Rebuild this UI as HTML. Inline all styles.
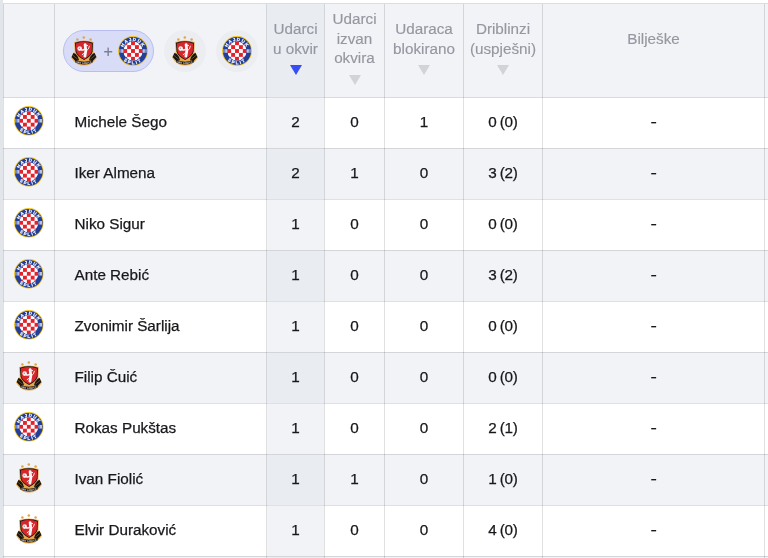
<!DOCTYPE html>
<html><head><meta charset="utf-8"><style>
*{box-sizing:border-box;margin:0;padding:0}
html,body{width:768px;height:558px;overflow:hidden;background:#fff}
body{position:relative;font-family:"Liberation Sans",Arial,sans-serif;font-size:15.25px;color:#222226}
.abs{position:absolute}
.strip{position:absolute;left:0;top:0;width:3px;height:558px;background:#e2e6eb}
.hdr{position:absolute;left:3px;top:3px;width:765px;height:95px;background:#f2f3f7;border-top:1px solid #dcdde0}
.hsort{position:absolute;top:4px;height:93px;background:#e9ecf1}
.row{position:absolute;left:3px;width:765px;height:51px}
.row.g{background:#f2f3f7}
.row.w{background:#fff}
.scell{position:absolute;height:50px}
.vl{position:absolute;width:1px;background:rgba(0,0,0,0.12)}
.hl{position:absolute;height:1px;left:3px;width:765px;background:rgba(0,0,0,0.12)}
.logo{position:absolute;display:block}
.pill{position:absolute;left:63px;top:30px;width:91px;height:42px;border-radius:21px;background:#d9dcf7;border:1px solid #b7bef4}
.circ{position:absolute;top:30px;width:42px;height:42px;border-radius:50%;background:#ebedf1}
.plus{position:absolute;left:102.2px;top:42.2px;width:12px;height:20px;line-height:20px;text-align:center;color:#7a7f96;font-size:16px;-webkit-text-stroke:0.2px #7a7f96}
.hc{position:absolute;top:4px;height:93px;display:flex;flex-direction:column;align-items:center;justify-content:center;color:#9597a0;line-height:19.5px;text-align:center;-webkit-text-stroke:0.15px #9597a0}
.ico{height:24px;width:24px;position:relative}
.ico i{position:absolute;left:6.3px;top:7px;width:0;height:0;border-left:6.2px solid transparent;border-right:6.2px solid transparent;border-top:10.4px solid #d2d3d8}
.ico.s i{border-top-color:#374df5}
.dash{display:inline-block;transform:scaleX(1.25)}
.name{position:absolute;left:74.5px;line-height:20px;color:#18181c;-webkit-text-stroke:0.25px #18181c}
.num{position:absolute;text-align:center;line-height:20px;color:#18181c;-webkit-text-stroke:0.25px #18181c;letter-spacing:-0.2px;word-spacing:-0.9px}
</style></head><body>
<div class="strip"></div>
<div class="hdr"></div>

<div class="hsort" style="left:267px;width:57px"></div>
<div class="pill"></div>
<div class="circ" style="left:164px"></div><div class="circ" style="left:216px"></div>
<svg class="logo" style="left:67.90px;top:33.05px;width:32px;height:36px" viewBox="0 0 32 36">
<g fill="#e2a548"><circle cx="9.4" cy="6.5" r="1.25"/><circle cx="15.8" cy="4.4" r="1.25"/><circle cx="22.6" cy="6.5" r="1.25"/></g>
<path d="M3,24.4 L5.8,19.2 L9.2,20.6 L16,26.6 L22.8,20.6 L26.2,19.2 L29,24.4 Q24,32.6 16,32.6 Q8,32.6 3,24.4 Z" fill="#e6a64a"/>
<path d="M3.7,24 L5.4,20 L9.2,21.5 L11,27.2 L7.4,28 Z M28.3,24 L26.6,20 L22.8,21.5 L21,27.2 L24.6,28 Z" fill="#141414"/>
<path d="M5,22.4 L9.6,26.2 M27,22.4 L22.4,26.2" stroke="#c8903a" stroke-width="0.45"/>
<path d="M7.2,27.1 Q16,30.5 24.8,27.1 L24.6,29.6 Q16,33.6 7.4,29.6 Z" fill="#141414"/>
<path d="M6.1,9 Q15.9,6 25.7,9 L25.4,18.5 Q24.6,23.4 16.1,27.9 Q7.6,23.4 6.8,18.5 Z" fill="#e8aa4c"/>
<path d="M6.9,9.7 Q15.9,6.9 24.9,9.7 L24.6,18.5 Q23.8,22.9 16.1,27.1 Q8.4,22.9 7.6,18.5 Z" fill="#151515"/>
<path d="M7.7,10.4 Q15.9,7.8 24.1,10.4 L23.8,18.5 Q23,22.4 16.1,26.3 Q9.2,22.4 8.4,18.5 Z" fill="#d8262b"/>
<circle cx="11.7" cy="15.6" r="2.3" fill="#eeeeee"/>
<circle cx="11.3" cy="15.3" r="0.7" fill="#9a9a9a"/>
<g stroke="#f8f8f8" stroke-linecap="round" fill="none">
<path d="M17.1,11.6 L17.8,17.6 L16.9,23.2" stroke-width="2.8"/>
<path d="M13.4,16.8 Q15,17.6 16.8,16.2" stroke-width="1.5"/>
<path d="M17.3,19.6 Q15.6,20.2 14.2,21.6" stroke-width="1"/>
<path d="M18.6,17.6 Q21,16.6 21.4,13.2" stroke-width="0.9"/>
<path d="M18.2,12.2 L19.6,12.6" stroke-width="1"/>
</g>
<path id="g84_50" d="M7.6,29.3 Q16,32.7 24.4,29.3" fill="none"/><text font-family="Liberation Sans, sans-serif" font-weight="bold" font-size="2.3" fill="#f0f0f0" letter-spacing="0.12"><textPath href="#g84_50" startOffset="50%" text-anchor="middle">HNK GORICA</textPath></text>
</svg>
<div class="plus">+</div>
<svg class="logo" style="left:118.00px;top:36.00px;width:30px;height:30px" viewBox="0 0 30 30">
<defs><clipPath id="ch133_51"><circle cx="15" cy="15" r="9.6"/></clipPath>
<path id="th133_51" d="M4.9,15 A10.1,10.1 0 0 1 25.1,15"/><path id="bh133_51" d="M1.7,15 A13.3,13.3 0 0 0 28.3,15"/></defs>
<circle cx="15" cy="15" r="14.9" fill="#f1c21b"/>
<circle cx="15" cy="15" r="14.1" fill="#213e9a"/>
<circle cx="15" cy="15" r="9.6" fill="#fff"/>
<g fill="#e3222b" clip-path="url(#ch133_51)"><rect x="5.25" y="5.25" width="3.9" height="3.9"/><rect x="13.05" y="5.25" width="3.9" height="3.9"/><rect x="20.85" y="5.25" width="3.9" height="3.9"/><rect x="9.15" y="9.15" width="3.9" height="3.9"/><rect x="16.95" y="9.15" width="3.9" height="3.9"/><rect x="5.25" y="13.05" width="3.9" height="3.9"/><rect x="13.05" y="13.05" width="3.9" height="3.9"/><rect x="20.85" y="13.05" width="3.9" height="3.9"/><rect x="9.15" y="16.95" width="3.9" height="3.9"/><rect x="16.95" y="16.95" width="3.9" height="3.9"/><rect x="5.25" y="20.85" width="3.9" height="3.9"/><rect x="13.05" y="20.85" width="3.9" height="3.9"/><rect x="20.85" y="20.85" width="3.9" height="3.9"/></g>
<g fill="#fff"><rect x="1.6" y="13.2" width="0.7" height="3.6"/><rect x="2.9" y="13.2" width="0.7" height="3.6"/><rect x="4.2" y="13.2" width="0.7" height="3.6"/><rect x="25.1" y="13.2" width="0.7" height="3.6"/><rect x="26.4" y="13.2" width="0.7" height="3.6"/><rect x="27.7" y="13.2" width="0.7" height="3.6"/></g>
<text font-family="Liberation Sans, sans-serif" font-weight="bold" font-size="4.5" fill="#fff" stroke="#fff" stroke-width="0.15" letter-spacing="1.0"><textPath href="#th133_51" startOffset="50%" text-anchor="middle">HAJDUK</textPath></text>
<text font-family="Liberation Sans, sans-serif" font-weight="bold" font-size="4.5" fill="#fff" stroke="#fff" stroke-width="0.15" letter-spacing="1.6"><textPath href="#bh133_51" startOffset="50%" text-anchor="middle">SPLIT</textPath></text>
</svg>
<svg class="logo" style="left:169.00px;top:33.00px;width:32px;height:36px" viewBox="0 0 32 36">
<g fill="#e2a548"><circle cx="9.4" cy="6.5" r="1.25"/><circle cx="15.8" cy="4.4" r="1.25"/><circle cx="22.6" cy="6.5" r="1.25"/></g>
<path d="M3,24.4 L5.8,19.2 L9.2,20.6 L16,26.6 L22.8,20.6 L26.2,19.2 L29,24.4 Q24,32.6 16,32.6 Q8,32.6 3,24.4 Z" fill="#e6a64a"/>
<path d="M3.7,24 L5.4,20 L9.2,21.5 L11,27.2 L7.4,28 Z M28.3,24 L26.6,20 L22.8,21.5 L21,27.2 L24.6,28 Z" fill="#141414"/>
<path d="M5,22.4 L9.6,26.2 M27,22.4 L22.4,26.2" stroke="#c8903a" stroke-width="0.45"/>
<path d="M7.2,27.1 Q16,30.5 24.8,27.1 L24.6,29.6 Q16,33.6 7.4,29.6 Z" fill="#141414"/>
<path d="M6.1,9 Q15.9,6 25.7,9 L25.4,18.5 Q24.6,23.4 16.1,27.9 Q7.6,23.4 6.8,18.5 Z" fill="#e8aa4c"/>
<path d="M6.9,9.7 Q15.9,6.9 24.9,9.7 L24.6,18.5 Q23.8,22.9 16.1,27.1 Q8.4,22.9 7.6,18.5 Z" fill="#151515"/>
<path d="M7.7,10.4 Q15.9,7.8 24.1,10.4 L23.8,18.5 Q23,22.4 16.1,26.3 Q9.2,22.4 8.4,18.5 Z" fill="#d8262b"/>
<circle cx="11.7" cy="15.6" r="2.3" fill="#eeeeee"/>
<circle cx="11.3" cy="15.3" r="0.7" fill="#9a9a9a"/>
<g stroke="#f8f8f8" stroke-linecap="round" fill="none">
<path d="M17.1,11.6 L17.8,17.6 L16.9,23.2" stroke-width="2.8"/>
<path d="M13.4,16.8 Q15,17.6 16.8,16.2" stroke-width="1.5"/>
<path d="M17.3,19.6 Q15.6,20.2 14.2,21.6" stroke-width="1"/>
<path d="M18.6,17.6 Q21,16.6 21.4,13.2" stroke-width="0.9"/>
<path d="M18.2,12.2 L19.6,12.6" stroke-width="1"/>
</g>
<path id="g185_50" d="M7.6,29.3 Q16,32.7 24.4,29.3" fill="none"/><text font-family="Liberation Sans, sans-serif" font-weight="bold" font-size="2.3" fill="#f0f0f0" letter-spacing="0.12"><textPath href="#g185_50" startOffset="50%" text-anchor="middle">HNK GORICA</textPath></text>
</svg>
<svg class="logo" style="left:222.00px;top:36.00px;width:30px;height:30px" viewBox="0 0 30 30">
<defs><clipPath id="ch237_51"><circle cx="15" cy="15" r="9.6"/></clipPath>
<path id="th237_51" d="M4.9,15 A10.1,10.1 0 0 1 25.1,15"/><path id="bh237_51" d="M1.7,15 A13.3,13.3 0 0 0 28.3,15"/></defs>
<circle cx="15" cy="15" r="14.9" fill="#f1c21b"/>
<circle cx="15" cy="15" r="14.1" fill="#213e9a"/>
<circle cx="15" cy="15" r="9.6" fill="#fff"/>
<g fill="#e3222b" clip-path="url(#ch237_51)"><rect x="5.25" y="5.25" width="3.9" height="3.9"/><rect x="13.05" y="5.25" width="3.9" height="3.9"/><rect x="20.85" y="5.25" width="3.9" height="3.9"/><rect x="9.15" y="9.15" width="3.9" height="3.9"/><rect x="16.95" y="9.15" width="3.9" height="3.9"/><rect x="5.25" y="13.05" width="3.9" height="3.9"/><rect x="13.05" y="13.05" width="3.9" height="3.9"/><rect x="20.85" y="13.05" width="3.9" height="3.9"/><rect x="9.15" y="16.95" width="3.9" height="3.9"/><rect x="16.95" y="16.95" width="3.9" height="3.9"/><rect x="5.25" y="20.85" width="3.9" height="3.9"/><rect x="13.05" y="20.85" width="3.9" height="3.9"/><rect x="20.85" y="20.85" width="3.9" height="3.9"/></g>
<g fill="#fff"><rect x="1.6" y="13.2" width="0.7" height="3.6"/><rect x="2.9" y="13.2" width="0.7" height="3.6"/><rect x="4.2" y="13.2" width="0.7" height="3.6"/><rect x="25.1" y="13.2" width="0.7" height="3.6"/><rect x="26.4" y="13.2" width="0.7" height="3.6"/><rect x="27.7" y="13.2" width="0.7" height="3.6"/></g>
<text font-family="Liberation Sans, sans-serif" font-weight="bold" font-size="4.5" fill="#fff" stroke="#fff" stroke-width="0.15" letter-spacing="1.0"><textPath href="#th237_51" startOffset="50%" text-anchor="middle">HAJDUK</textPath></text>
<text font-family="Liberation Sans, sans-serif" font-weight="bold" font-size="4.5" fill="#fff" stroke="#fff" stroke-width="0.15" letter-spacing="1.6"><textPath href="#bh237_51" startOffset="50%" text-anchor="middle">SPLIT</textPath></text>
</svg>
<div class="hc" style="left:267px;width:57px"><div>Udarci<br>u okvir</div><div class="ico s"><i></i></div></div>
<div class="hc" style="left:325px;width:59px"><div>Udarci<br>izvan<br>okvira</div><div class="ico"><i></i></div></div>
<div class="hc" style="left:385px;width:78px"><div>Udaraca<br>blokirano</div><div class="ico"><i></i></div></div>
<div class="hc" style="left:464px;width:78px"><div>Driblinzi<br>(uspješni)</div><div class="ico"><i></i></div></div>
<div class="hc" style="left:543px;width:221px"><div>Bilješke</div><div class="ico" style="visibility:hidden"></div></div>
<div class="row w" style="top:97px"></div>
<div class="scell" style="left:267px;width:57px;top:98px;background:#f2f3f7"></div>
<svg class="logo" style="left:14.40px;top:106.30px;width:29.6px;height:29.6px" viewBox="0 0 30 30">
<defs><clipPath id="ch29_121"><circle cx="15" cy="15" r="9.6"/></clipPath>
<path id="th29_121" d="M4.9,15 A10.1,10.1 0 0 1 25.1,15"/><path id="bh29_121" d="M1.7,15 A13.3,13.3 0 0 0 28.3,15"/></defs>
<circle cx="15" cy="15" r="14.9" fill="#f1c21b"/>
<circle cx="15" cy="15" r="14.1" fill="#213e9a"/>
<circle cx="15" cy="15" r="9.6" fill="#fff"/>
<g fill="#e3222b" clip-path="url(#ch29_121)"><rect x="5.25" y="5.25" width="3.9" height="3.9"/><rect x="13.05" y="5.25" width="3.9" height="3.9"/><rect x="20.85" y="5.25" width="3.9" height="3.9"/><rect x="9.15" y="9.15" width="3.9" height="3.9"/><rect x="16.95" y="9.15" width="3.9" height="3.9"/><rect x="5.25" y="13.05" width="3.9" height="3.9"/><rect x="13.05" y="13.05" width="3.9" height="3.9"/><rect x="20.85" y="13.05" width="3.9" height="3.9"/><rect x="9.15" y="16.95" width="3.9" height="3.9"/><rect x="16.95" y="16.95" width="3.9" height="3.9"/><rect x="5.25" y="20.85" width="3.9" height="3.9"/><rect x="13.05" y="20.85" width="3.9" height="3.9"/><rect x="20.85" y="20.85" width="3.9" height="3.9"/></g>
<g fill="#fff"><rect x="1.6" y="13.2" width="0.7" height="3.6"/><rect x="2.9" y="13.2" width="0.7" height="3.6"/><rect x="4.2" y="13.2" width="0.7" height="3.6"/><rect x="25.1" y="13.2" width="0.7" height="3.6"/><rect x="26.4" y="13.2" width="0.7" height="3.6"/><rect x="27.7" y="13.2" width="0.7" height="3.6"/></g>
<text font-family="Liberation Sans, sans-serif" font-weight="bold" font-size="4.5" fill="#fff" stroke="#fff" stroke-width="0.15" letter-spacing="1.0"><textPath href="#th29_121" startOffset="50%" text-anchor="middle">HAJDUK</textPath></text>
<text font-family="Liberation Sans, sans-serif" font-weight="bold" font-size="4.5" fill="#fff" stroke="#fff" stroke-width="0.15" letter-spacing="1.6"><textPath href="#bh29_121" startOffset="50%" text-anchor="middle">SPLIT</textPath></text>
</svg>
<div class="name" style="top:112px">Michele Šego</div>
<div class="num" style="left:267px;width:57px;top:112px">2</div>
<div class="num" style="left:325px;width:59px;top:112px">0</div>
<div class="num" style="left:385px;width:78px;top:112px">1</div>
<div class="num" style="left:464px;width:78px;top:112px">0 (0)</div>
<div class="num" style="left:543px;width:221px;top:112px"><span class="dash">-</span></div>
<div class="row g" style="top:148px"></div>
<div class="scell" style="left:267px;width:57px;top:149px;background:#e9ecf1"></div>
<svg class="logo" style="left:14.40px;top:157.30px;width:29.6px;height:29.6px" viewBox="0 0 30 30">
<defs><clipPath id="ch29_172"><circle cx="15" cy="15" r="9.6"/></clipPath>
<path id="th29_172" d="M4.9,15 A10.1,10.1 0 0 1 25.1,15"/><path id="bh29_172" d="M1.7,15 A13.3,13.3 0 0 0 28.3,15"/></defs>
<circle cx="15" cy="15" r="14.9" fill="#f1c21b"/>
<circle cx="15" cy="15" r="14.1" fill="#213e9a"/>
<circle cx="15" cy="15" r="9.6" fill="#fff"/>
<g fill="#e3222b" clip-path="url(#ch29_172)"><rect x="5.25" y="5.25" width="3.9" height="3.9"/><rect x="13.05" y="5.25" width="3.9" height="3.9"/><rect x="20.85" y="5.25" width="3.9" height="3.9"/><rect x="9.15" y="9.15" width="3.9" height="3.9"/><rect x="16.95" y="9.15" width="3.9" height="3.9"/><rect x="5.25" y="13.05" width="3.9" height="3.9"/><rect x="13.05" y="13.05" width="3.9" height="3.9"/><rect x="20.85" y="13.05" width="3.9" height="3.9"/><rect x="9.15" y="16.95" width="3.9" height="3.9"/><rect x="16.95" y="16.95" width="3.9" height="3.9"/><rect x="5.25" y="20.85" width="3.9" height="3.9"/><rect x="13.05" y="20.85" width="3.9" height="3.9"/><rect x="20.85" y="20.85" width="3.9" height="3.9"/></g>
<g fill="#fff"><rect x="1.6" y="13.2" width="0.7" height="3.6"/><rect x="2.9" y="13.2" width="0.7" height="3.6"/><rect x="4.2" y="13.2" width="0.7" height="3.6"/><rect x="25.1" y="13.2" width="0.7" height="3.6"/><rect x="26.4" y="13.2" width="0.7" height="3.6"/><rect x="27.7" y="13.2" width="0.7" height="3.6"/></g>
<text font-family="Liberation Sans, sans-serif" font-weight="bold" font-size="4.5" fill="#fff" stroke="#fff" stroke-width="0.15" letter-spacing="1.0"><textPath href="#th29_172" startOffset="50%" text-anchor="middle">HAJDUK</textPath></text>
<text font-family="Liberation Sans, sans-serif" font-weight="bold" font-size="4.5" fill="#fff" stroke="#fff" stroke-width="0.15" letter-spacing="1.6"><textPath href="#bh29_172" startOffset="50%" text-anchor="middle">SPLIT</textPath></text>
</svg>
<div class="name" style="top:163px">Iker Almena</div>
<div class="num" style="left:267px;width:57px;top:163px">2</div>
<div class="num" style="left:325px;width:59px;top:163px">1</div>
<div class="num" style="left:385px;width:78px;top:163px">0</div>
<div class="num" style="left:464px;width:78px;top:163px">3 (2)</div>
<div class="num" style="left:543px;width:221px;top:163px"><span class="dash">-</span></div>
<div class="row w" style="top:199px"></div>
<div class="scell" style="left:267px;width:57px;top:200px;background:#f2f3f7"></div>
<svg class="logo" style="left:14.40px;top:208.30px;width:29.6px;height:29.6px" viewBox="0 0 30 30">
<defs><clipPath id="ch29_223"><circle cx="15" cy="15" r="9.6"/></clipPath>
<path id="th29_223" d="M4.9,15 A10.1,10.1 0 0 1 25.1,15"/><path id="bh29_223" d="M1.7,15 A13.3,13.3 0 0 0 28.3,15"/></defs>
<circle cx="15" cy="15" r="14.9" fill="#f1c21b"/>
<circle cx="15" cy="15" r="14.1" fill="#213e9a"/>
<circle cx="15" cy="15" r="9.6" fill="#fff"/>
<g fill="#e3222b" clip-path="url(#ch29_223)"><rect x="5.25" y="5.25" width="3.9" height="3.9"/><rect x="13.05" y="5.25" width="3.9" height="3.9"/><rect x="20.85" y="5.25" width="3.9" height="3.9"/><rect x="9.15" y="9.15" width="3.9" height="3.9"/><rect x="16.95" y="9.15" width="3.9" height="3.9"/><rect x="5.25" y="13.05" width="3.9" height="3.9"/><rect x="13.05" y="13.05" width="3.9" height="3.9"/><rect x="20.85" y="13.05" width="3.9" height="3.9"/><rect x="9.15" y="16.95" width="3.9" height="3.9"/><rect x="16.95" y="16.95" width="3.9" height="3.9"/><rect x="5.25" y="20.85" width="3.9" height="3.9"/><rect x="13.05" y="20.85" width="3.9" height="3.9"/><rect x="20.85" y="20.85" width="3.9" height="3.9"/></g>
<g fill="#fff"><rect x="1.6" y="13.2" width="0.7" height="3.6"/><rect x="2.9" y="13.2" width="0.7" height="3.6"/><rect x="4.2" y="13.2" width="0.7" height="3.6"/><rect x="25.1" y="13.2" width="0.7" height="3.6"/><rect x="26.4" y="13.2" width="0.7" height="3.6"/><rect x="27.7" y="13.2" width="0.7" height="3.6"/></g>
<text font-family="Liberation Sans, sans-serif" font-weight="bold" font-size="4.5" fill="#fff" stroke="#fff" stroke-width="0.15" letter-spacing="1.0"><textPath href="#th29_223" startOffset="50%" text-anchor="middle">HAJDUK</textPath></text>
<text font-family="Liberation Sans, sans-serif" font-weight="bold" font-size="4.5" fill="#fff" stroke="#fff" stroke-width="0.15" letter-spacing="1.6"><textPath href="#bh29_223" startOffset="50%" text-anchor="middle">SPLIT</textPath></text>
</svg>
<div class="name" style="top:214px">Niko Sigur</div>
<div class="num" style="left:267px;width:57px;top:214px">1</div>
<div class="num" style="left:325px;width:59px;top:214px">0</div>
<div class="num" style="left:385px;width:78px;top:214px">0</div>
<div class="num" style="left:464px;width:78px;top:214px">0 (0)</div>
<div class="num" style="left:543px;width:221px;top:214px"><span class="dash">-</span></div>
<div class="row g" style="top:250px"></div>
<div class="scell" style="left:267px;width:57px;top:251px;background:#e9ecf1"></div>
<svg class="logo" style="left:14.40px;top:259.30px;width:29.6px;height:29.6px" viewBox="0 0 30 30">
<defs><clipPath id="ch29_274"><circle cx="15" cy="15" r="9.6"/></clipPath>
<path id="th29_274" d="M4.9,15 A10.1,10.1 0 0 1 25.1,15"/><path id="bh29_274" d="M1.7,15 A13.3,13.3 0 0 0 28.3,15"/></defs>
<circle cx="15" cy="15" r="14.9" fill="#f1c21b"/>
<circle cx="15" cy="15" r="14.1" fill="#213e9a"/>
<circle cx="15" cy="15" r="9.6" fill="#fff"/>
<g fill="#e3222b" clip-path="url(#ch29_274)"><rect x="5.25" y="5.25" width="3.9" height="3.9"/><rect x="13.05" y="5.25" width="3.9" height="3.9"/><rect x="20.85" y="5.25" width="3.9" height="3.9"/><rect x="9.15" y="9.15" width="3.9" height="3.9"/><rect x="16.95" y="9.15" width="3.9" height="3.9"/><rect x="5.25" y="13.05" width="3.9" height="3.9"/><rect x="13.05" y="13.05" width="3.9" height="3.9"/><rect x="20.85" y="13.05" width="3.9" height="3.9"/><rect x="9.15" y="16.95" width="3.9" height="3.9"/><rect x="16.95" y="16.95" width="3.9" height="3.9"/><rect x="5.25" y="20.85" width="3.9" height="3.9"/><rect x="13.05" y="20.85" width="3.9" height="3.9"/><rect x="20.85" y="20.85" width="3.9" height="3.9"/></g>
<g fill="#fff"><rect x="1.6" y="13.2" width="0.7" height="3.6"/><rect x="2.9" y="13.2" width="0.7" height="3.6"/><rect x="4.2" y="13.2" width="0.7" height="3.6"/><rect x="25.1" y="13.2" width="0.7" height="3.6"/><rect x="26.4" y="13.2" width="0.7" height="3.6"/><rect x="27.7" y="13.2" width="0.7" height="3.6"/></g>
<text font-family="Liberation Sans, sans-serif" font-weight="bold" font-size="4.5" fill="#fff" stroke="#fff" stroke-width="0.15" letter-spacing="1.0"><textPath href="#th29_274" startOffset="50%" text-anchor="middle">HAJDUK</textPath></text>
<text font-family="Liberation Sans, sans-serif" font-weight="bold" font-size="4.5" fill="#fff" stroke="#fff" stroke-width="0.15" letter-spacing="1.6"><textPath href="#bh29_274" startOffset="50%" text-anchor="middle">SPLIT</textPath></text>
</svg>
<div class="name" style="top:265px">Ante Rebić</div>
<div class="num" style="left:267px;width:57px;top:265px">1</div>
<div class="num" style="left:325px;width:59px;top:265px">0</div>
<div class="num" style="left:385px;width:78px;top:265px">0</div>
<div class="num" style="left:464px;width:78px;top:265px">3 (2)</div>
<div class="num" style="left:543px;width:221px;top:265px"><span class="dash">-</span></div>
<div class="row w" style="top:301px"></div>
<div class="scell" style="left:267px;width:57px;top:302px;background:#f2f3f7"></div>
<svg class="logo" style="left:14.40px;top:310.30px;width:29.6px;height:29.6px" viewBox="0 0 30 30">
<defs><clipPath id="ch29_325"><circle cx="15" cy="15" r="9.6"/></clipPath>
<path id="th29_325" d="M4.9,15 A10.1,10.1 0 0 1 25.1,15"/><path id="bh29_325" d="M1.7,15 A13.3,13.3 0 0 0 28.3,15"/></defs>
<circle cx="15" cy="15" r="14.9" fill="#f1c21b"/>
<circle cx="15" cy="15" r="14.1" fill="#213e9a"/>
<circle cx="15" cy="15" r="9.6" fill="#fff"/>
<g fill="#e3222b" clip-path="url(#ch29_325)"><rect x="5.25" y="5.25" width="3.9" height="3.9"/><rect x="13.05" y="5.25" width="3.9" height="3.9"/><rect x="20.85" y="5.25" width="3.9" height="3.9"/><rect x="9.15" y="9.15" width="3.9" height="3.9"/><rect x="16.95" y="9.15" width="3.9" height="3.9"/><rect x="5.25" y="13.05" width="3.9" height="3.9"/><rect x="13.05" y="13.05" width="3.9" height="3.9"/><rect x="20.85" y="13.05" width="3.9" height="3.9"/><rect x="9.15" y="16.95" width="3.9" height="3.9"/><rect x="16.95" y="16.95" width="3.9" height="3.9"/><rect x="5.25" y="20.85" width="3.9" height="3.9"/><rect x="13.05" y="20.85" width="3.9" height="3.9"/><rect x="20.85" y="20.85" width="3.9" height="3.9"/></g>
<g fill="#fff"><rect x="1.6" y="13.2" width="0.7" height="3.6"/><rect x="2.9" y="13.2" width="0.7" height="3.6"/><rect x="4.2" y="13.2" width="0.7" height="3.6"/><rect x="25.1" y="13.2" width="0.7" height="3.6"/><rect x="26.4" y="13.2" width="0.7" height="3.6"/><rect x="27.7" y="13.2" width="0.7" height="3.6"/></g>
<text font-family="Liberation Sans, sans-serif" font-weight="bold" font-size="4.5" fill="#fff" stroke="#fff" stroke-width="0.15" letter-spacing="1.0"><textPath href="#th29_325" startOffset="50%" text-anchor="middle">HAJDUK</textPath></text>
<text font-family="Liberation Sans, sans-serif" font-weight="bold" font-size="4.5" fill="#fff" stroke="#fff" stroke-width="0.15" letter-spacing="1.6"><textPath href="#bh29_325" startOffset="50%" text-anchor="middle">SPLIT</textPath></text>
</svg>
<div class="name" style="top:316px">Zvonimir Šarlija</div>
<div class="num" style="left:267px;width:57px;top:316px">1</div>
<div class="num" style="left:325px;width:59px;top:316px">0</div>
<div class="num" style="left:385px;width:78px;top:316px">0</div>
<div class="num" style="left:464px;width:78px;top:316px">0 (0)</div>
<div class="num" style="left:543px;width:221px;top:316px"><span class="dash">-</span></div>
<div class="row g" style="top:352px"></div>
<div class="scell" style="left:267px;width:57px;top:353px;background:#e9ecf1"></div>
<svg class="logo" style="left:13.00px;top:358.35px;width:32px;height:36px" viewBox="0 0 32 36">
<g fill="#e2a548"><circle cx="9.4" cy="6.5" r="1.25"/><circle cx="15.8" cy="4.4" r="1.25"/><circle cx="22.6" cy="6.5" r="1.25"/></g>
<path d="M3,24.4 L5.8,19.2 L9.2,20.6 L16,26.6 L22.8,20.6 L26.2,19.2 L29,24.4 Q24,32.6 16,32.6 Q8,32.6 3,24.4 Z" fill="#e6a64a"/>
<path d="M3.7,24 L5.4,20 L9.2,21.5 L11,27.2 L7.4,28 Z M28.3,24 L26.6,20 L22.8,21.5 L21,27.2 L24.6,28 Z" fill="#141414"/>
<path d="M5,22.4 L9.6,26.2 M27,22.4 L22.4,26.2" stroke="#c8903a" stroke-width="0.45"/>
<path d="M7.2,27.1 Q16,30.5 24.8,27.1 L24.6,29.6 Q16,33.6 7.4,29.6 Z" fill="#141414"/>
<path d="M6.1,9 Q15.9,6 25.7,9 L25.4,18.5 Q24.6,23.4 16.1,27.9 Q7.6,23.4 6.8,18.5 Z" fill="#e8aa4c"/>
<path d="M6.9,9.7 Q15.9,6.9 24.9,9.7 L24.6,18.5 Q23.8,22.9 16.1,27.1 Q8.4,22.9 7.6,18.5 Z" fill="#151515"/>
<path d="M7.7,10.4 Q15.9,7.8 24.1,10.4 L23.8,18.5 Q23,22.4 16.1,26.3 Q9.2,22.4 8.4,18.5 Z" fill="#d8262b"/>
<circle cx="11.7" cy="15.6" r="2.3" fill="#eeeeee"/>
<circle cx="11.3" cy="15.3" r="0.7" fill="#9a9a9a"/>
<g stroke="#f8f8f8" stroke-linecap="round" fill="none">
<path d="M17.1,11.6 L17.8,17.6 L16.9,23.2" stroke-width="2.8"/>
<path d="M13.4,16.8 Q15,17.6 16.8,16.2" stroke-width="1.5"/>
<path d="M17.3,19.6 Q15.6,20.2 14.2,21.6" stroke-width="1"/>
<path d="M18.6,17.6 Q21,16.6 21.4,13.2" stroke-width="0.9"/>
<path d="M18.2,12.2 L19.6,12.6" stroke-width="1"/>
</g>
<path id="g29_376" d="M7.6,29.3 Q16,32.7 24.4,29.3" fill="none"/><text font-family="Liberation Sans, sans-serif" font-weight="bold" font-size="2.3" fill="#f0f0f0" letter-spacing="0.12"><textPath href="#g29_376" startOffset="50%" text-anchor="middle">HNK GORICA</textPath></text>
</svg>
<div class="name" style="top:367px">Filip Čuić</div>
<div class="num" style="left:267px;width:57px;top:367px">1</div>
<div class="num" style="left:325px;width:59px;top:367px">0</div>
<div class="num" style="left:385px;width:78px;top:367px">0</div>
<div class="num" style="left:464px;width:78px;top:367px">0 (0)</div>
<div class="num" style="left:543px;width:221px;top:367px"><span class="dash">-</span></div>
<div class="row w" style="top:403px"></div>
<div class="scell" style="left:267px;width:57px;top:404px;background:#f2f3f7"></div>
<svg class="logo" style="left:14.40px;top:412.30px;width:29.6px;height:29.6px" viewBox="0 0 30 30">
<defs><clipPath id="ch29_427"><circle cx="15" cy="15" r="9.6"/></clipPath>
<path id="th29_427" d="M4.9,15 A10.1,10.1 0 0 1 25.1,15"/><path id="bh29_427" d="M1.7,15 A13.3,13.3 0 0 0 28.3,15"/></defs>
<circle cx="15" cy="15" r="14.9" fill="#f1c21b"/>
<circle cx="15" cy="15" r="14.1" fill="#213e9a"/>
<circle cx="15" cy="15" r="9.6" fill="#fff"/>
<g fill="#e3222b" clip-path="url(#ch29_427)"><rect x="5.25" y="5.25" width="3.9" height="3.9"/><rect x="13.05" y="5.25" width="3.9" height="3.9"/><rect x="20.85" y="5.25" width="3.9" height="3.9"/><rect x="9.15" y="9.15" width="3.9" height="3.9"/><rect x="16.95" y="9.15" width="3.9" height="3.9"/><rect x="5.25" y="13.05" width="3.9" height="3.9"/><rect x="13.05" y="13.05" width="3.9" height="3.9"/><rect x="20.85" y="13.05" width="3.9" height="3.9"/><rect x="9.15" y="16.95" width="3.9" height="3.9"/><rect x="16.95" y="16.95" width="3.9" height="3.9"/><rect x="5.25" y="20.85" width="3.9" height="3.9"/><rect x="13.05" y="20.85" width="3.9" height="3.9"/><rect x="20.85" y="20.85" width="3.9" height="3.9"/></g>
<g fill="#fff"><rect x="1.6" y="13.2" width="0.7" height="3.6"/><rect x="2.9" y="13.2" width="0.7" height="3.6"/><rect x="4.2" y="13.2" width="0.7" height="3.6"/><rect x="25.1" y="13.2" width="0.7" height="3.6"/><rect x="26.4" y="13.2" width="0.7" height="3.6"/><rect x="27.7" y="13.2" width="0.7" height="3.6"/></g>
<text font-family="Liberation Sans, sans-serif" font-weight="bold" font-size="4.5" fill="#fff" stroke="#fff" stroke-width="0.15" letter-spacing="1.0"><textPath href="#th29_427" startOffset="50%" text-anchor="middle">HAJDUK</textPath></text>
<text font-family="Liberation Sans, sans-serif" font-weight="bold" font-size="4.5" fill="#fff" stroke="#fff" stroke-width="0.15" letter-spacing="1.6"><textPath href="#bh29_427" startOffset="50%" text-anchor="middle">SPLIT</textPath></text>
</svg>
<div class="name" style="top:418px">Rokas Pukštas</div>
<div class="num" style="left:267px;width:57px;top:418px">1</div>
<div class="num" style="left:325px;width:59px;top:418px">0</div>
<div class="num" style="left:385px;width:78px;top:418px">0</div>
<div class="num" style="left:464px;width:78px;top:418px">2 (1)</div>
<div class="num" style="left:543px;width:221px;top:418px"><span class="dash">-</span></div>
<div class="row g" style="top:454px"></div>
<div class="scell" style="left:267px;width:57px;top:455px;background:#e9ecf1"></div>
<svg class="logo" style="left:13.00px;top:460.35px;width:32px;height:36px" viewBox="0 0 32 36">
<g fill="#e2a548"><circle cx="9.4" cy="6.5" r="1.25"/><circle cx="15.8" cy="4.4" r="1.25"/><circle cx="22.6" cy="6.5" r="1.25"/></g>
<path d="M3,24.4 L5.8,19.2 L9.2,20.6 L16,26.6 L22.8,20.6 L26.2,19.2 L29,24.4 Q24,32.6 16,32.6 Q8,32.6 3,24.4 Z" fill="#e6a64a"/>
<path d="M3.7,24 L5.4,20 L9.2,21.5 L11,27.2 L7.4,28 Z M28.3,24 L26.6,20 L22.8,21.5 L21,27.2 L24.6,28 Z" fill="#141414"/>
<path d="M5,22.4 L9.6,26.2 M27,22.4 L22.4,26.2" stroke="#c8903a" stroke-width="0.45"/>
<path d="M7.2,27.1 Q16,30.5 24.8,27.1 L24.6,29.6 Q16,33.6 7.4,29.6 Z" fill="#141414"/>
<path d="M6.1,9 Q15.9,6 25.7,9 L25.4,18.5 Q24.6,23.4 16.1,27.9 Q7.6,23.4 6.8,18.5 Z" fill="#e8aa4c"/>
<path d="M6.9,9.7 Q15.9,6.9 24.9,9.7 L24.6,18.5 Q23.8,22.9 16.1,27.1 Q8.4,22.9 7.6,18.5 Z" fill="#151515"/>
<path d="M7.7,10.4 Q15.9,7.8 24.1,10.4 L23.8,18.5 Q23,22.4 16.1,26.3 Q9.2,22.4 8.4,18.5 Z" fill="#d8262b"/>
<circle cx="11.7" cy="15.6" r="2.3" fill="#eeeeee"/>
<circle cx="11.3" cy="15.3" r="0.7" fill="#9a9a9a"/>
<g stroke="#f8f8f8" stroke-linecap="round" fill="none">
<path d="M17.1,11.6 L17.8,17.6 L16.9,23.2" stroke-width="2.8"/>
<path d="M13.4,16.8 Q15,17.6 16.8,16.2" stroke-width="1.5"/>
<path d="M17.3,19.6 Q15.6,20.2 14.2,21.6" stroke-width="1"/>
<path d="M18.6,17.6 Q21,16.6 21.4,13.2" stroke-width="0.9"/>
<path d="M18.2,12.2 L19.6,12.6" stroke-width="1"/>
</g>
<path id="g29_478" d="M7.6,29.3 Q16,32.7 24.4,29.3" fill="none"/><text font-family="Liberation Sans, sans-serif" font-weight="bold" font-size="2.3" fill="#f0f0f0" letter-spacing="0.12"><textPath href="#g29_478" startOffset="50%" text-anchor="middle">HNK GORICA</textPath></text>
</svg>
<div class="name" style="top:469px">Ivan Fiolić</div>
<div class="num" style="left:267px;width:57px;top:469px">1</div>
<div class="num" style="left:325px;width:59px;top:469px">1</div>
<div class="num" style="left:385px;width:78px;top:469px">0</div>
<div class="num" style="left:464px;width:78px;top:469px">1 (0)</div>
<div class="num" style="left:543px;width:221px;top:469px"><span class="dash">-</span></div>
<div class="row w" style="top:505px"></div>
<div class="scell" style="left:267px;width:57px;top:506px;background:#f2f3f7"></div>
<svg class="logo" style="left:13.00px;top:511.35px;width:32px;height:36px" viewBox="0 0 32 36">
<g fill="#e2a548"><circle cx="9.4" cy="6.5" r="1.25"/><circle cx="15.8" cy="4.4" r="1.25"/><circle cx="22.6" cy="6.5" r="1.25"/></g>
<path d="M3,24.4 L5.8,19.2 L9.2,20.6 L16,26.6 L22.8,20.6 L26.2,19.2 L29,24.4 Q24,32.6 16,32.6 Q8,32.6 3,24.4 Z" fill="#e6a64a"/>
<path d="M3.7,24 L5.4,20 L9.2,21.5 L11,27.2 L7.4,28 Z M28.3,24 L26.6,20 L22.8,21.5 L21,27.2 L24.6,28 Z" fill="#141414"/>
<path d="M5,22.4 L9.6,26.2 M27,22.4 L22.4,26.2" stroke="#c8903a" stroke-width="0.45"/>
<path d="M7.2,27.1 Q16,30.5 24.8,27.1 L24.6,29.6 Q16,33.6 7.4,29.6 Z" fill="#141414"/>
<path d="M6.1,9 Q15.9,6 25.7,9 L25.4,18.5 Q24.6,23.4 16.1,27.9 Q7.6,23.4 6.8,18.5 Z" fill="#e8aa4c"/>
<path d="M6.9,9.7 Q15.9,6.9 24.9,9.7 L24.6,18.5 Q23.8,22.9 16.1,27.1 Q8.4,22.9 7.6,18.5 Z" fill="#151515"/>
<path d="M7.7,10.4 Q15.9,7.8 24.1,10.4 L23.8,18.5 Q23,22.4 16.1,26.3 Q9.2,22.4 8.4,18.5 Z" fill="#d8262b"/>
<circle cx="11.7" cy="15.6" r="2.3" fill="#eeeeee"/>
<circle cx="11.3" cy="15.3" r="0.7" fill="#9a9a9a"/>
<g stroke="#f8f8f8" stroke-linecap="round" fill="none">
<path d="M17.1,11.6 L17.8,17.6 L16.9,23.2" stroke-width="2.8"/>
<path d="M13.4,16.8 Q15,17.6 16.8,16.2" stroke-width="1.5"/>
<path d="M17.3,19.6 Q15.6,20.2 14.2,21.6" stroke-width="1"/>
<path d="M18.6,17.6 Q21,16.6 21.4,13.2" stroke-width="0.9"/>
<path d="M18.2,12.2 L19.6,12.6" stroke-width="1"/>
</g>
<path id="g29_529" d="M7.6,29.3 Q16,32.7 24.4,29.3" fill="none"/><text font-family="Liberation Sans, sans-serif" font-weight="bold" font-size="2.3" fill="#f0f0f0" letter-spacing="0.12"><textPath href="#g29_529" startOffset="50%" text-anchor="middle">HNK GORICA</textPath></text>
</svg>
<div class="name" style="top:520px">Elvir Duraković</div>
<div class="num" style="left:267px;width:57px;top:520px">1</div>
<div class="num" style="left:325px;width:59px;top:520px">0</div>
<div class="num" style="left:385px;width:78px;top:520px">0</div>
<div class="num" style="left:464px;width:78px;top:520px">4 (0)</div>
<div class="num" style="left:543px;width:221px;top:520px"><span class="dash">-</span></div>
<div class="row g" style="top:556px"></div>
<div class="scell" style="left:267px;width:57px;top:557px;background:#e9ecf1"></div>
<div class="hl" style="top:97px;background:rgba(30,40,70,0.17)"></div>
<div class="hl" style="top:148px"></div>
<div class="hl" style="top:199px"></div>
<div class="hl" style="top:250px"></div>
<div class="hl" style="top:301px"></div>
<div class="hl" style="top:352px"></div>
<div class="hl" style="top:403px"></div>
<div class="hl" style="top:454px"></div>
<div class="hl" style="top:505px"></div>
<div class="hl" style="top:556px"></div>
<div class="vl" style="left:3px;top:4px;height:554px"></div>
<div class="vl" style="left:54px;top:4px;height:554px"></div>
<div class="vl" style="left:266px;top:4px;height:554px"></div>
<div class="vl" style="left:324px;top:4px;height:554px"></div>
<div class="vl" style="left:384px;top:4px;height:554px"></div>
<div class="vl" style="left:463px;top:4px;height:554px"></div>
<div class="vl" style="left:542px;top:4px;height:554px"></div>
<div class="vl" style="left:764px;top:4px;height:554px"></div>
</body></html>
